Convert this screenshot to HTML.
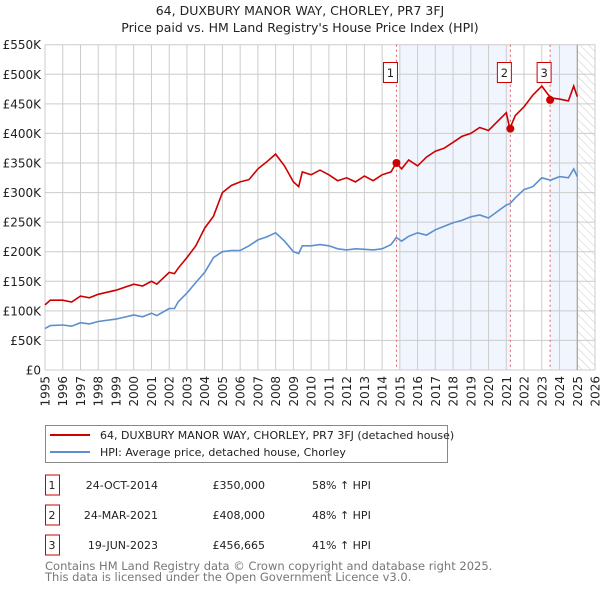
<!DOCTYPE html>
<html><head><meta charset="utf-8"><style>
body{margin:0;background:#fff;font-family:"Liberation Sans","DejaVu Sans",sans-serif;}
svg text{font-family:"DejaVu Sans","Liberation Sans",sans-serif;}
</style></head><body>
<svg id="c" width="600" height="590" viewBox="0 0 600 590">
<defs><pattern id="hatch" width="6" height="6" patternUnits="userSpaceOnUse" patternTransform="rotate(-45)"><line x1="0" y1="0" x2="0" y2="6" stroke="#ccc" stroke-width="1"/></pattern></defs>
<text x="300" y="15" text-anchor="middle" font-size="12.5" fill="#222">64, DUXBURY MANOR WAY, CHORLEY, PR7 3FJ</text>
<text x="300" y="32" text-anchor="middle" font-size="12.5" fill="#222">Price paid vs. HM Land Registry's House Price Index (HPI)</text>
<g id="plot"></g>
<g>
<rect x="45.5" y="425.5" width="402" height="37" fill="#fff" stroke="#888"/>
<line x1="50" y1="435" x2="90" y2="435" stroke="#cc0000" stroke-width="2"/>
<text x="100" y="439" font-size="11" fill="#222">64, DUXBURY MANOR WAY, CHORLEY, PR7 3FJ (detached house)</text>
<line x1="50" y1="452" x2="90" y2="452" stroke="#5b8fd0" stroke-width="2"/>
<text x="100" y="456" font-size="11" fill="#222">HPI: Average price, detached house, Chorley</text>
</g>
<g id="table" font-size="11" fill="#222"></g>
<text x="45" y="570" font-size="11.5" fill="#777">Contains HM Land Registry data © Crown copyright and database right 2025.</text>
<text x="45" y="581" font-size="11.5" fill="#777">This data is licensed under the Open Government Licence v3.0.</text>
</svg>
<script>
const years=[1995,1995.3,1996,1996.5,1997,1997.5,1998,1999,2000,2000.5,2001,2001.3,2002,2002.3,2002.5,2003,2003.5,2004,2004.5,2005,2005.5,2006,2006.5,2007,2007.5,2008,2008.5,2009,2009.3,2009.5,2010,2010.5,2011,2011.5,2012,2012.5,2013,2013.5,2014,2014.5,2014.8,2015.1,2015.5,2016,2016.5,2017,2017.5,2018,2018.5,2019,2019.5,2020,2020.5,2021,2021.2,2021.5,2022,2022.5,2023,2023.5,2024,2024.5,2024.8,2025];
const hpiValues=[70,75,76,74,80,78,82,86,93,90,96,92,104,104,115,130,148,165,190,200,202,202,210,220,225,232,218,200,197,210,210,212,210,205,203,205,204,203,205,212,224,218,226,232,228,237,243,249,253,259,262,257,268,279,281,291,305,310,325,321,327,325,340,327];
const propValues=[110,118,118,115,125,122,128,135,145,142,150,145,165,163,172,190,210,240,260,300,312,318,322,340,352,365,345,318,310,335,330,338,330,320,325,318,328,320,330,335,350,340,355,345,360,370,375,385,395,400,410,405,420,435,408,430,445,465,480,460,458,455,480,462];
const yTicks=[0,50,100,150,200,250,300,350,400,450,500,550];
const yTickLabels=["£0","£50K","£100K","£150K","£200K","£250K","£300K","£350K","£400K","£450K","£500K","£550K"];
const xTicks=[1995,1996,1997,1998,1999,2000,2001,2002,2003,2004,2005,2006,2007,2008,2009,2010,2011,2012,2013,2014,2015,2016,2017,2018,2019,2020,2021,2022,2023,2024,2025,2026];
const saleLabels=["1","2","3"];
const saleYears=[2014.81,2021.23,2023.47];
const saleValues=[350,408,456.665];
const saleDates=["24-OCT-2014","24-MAR-2021","19-JUN-2023"];
const salePrices=["£350,000","£408,000","£456,665"];
const saleHpi=["58% ↑ HPI","48% ↑ HPI","41% ↑ HPI"];
const dataEnd=2025.0;

const L=45,R=595,T=44.7,B=370,x0=1995,x1=2026,yMax=550;
const X=v=>L+(v-x0)/(x1-x0)*(R-L);
const Y=v=>B-v/yMax*(B-T);
const NS='http://www.w3.org/2000/svg';
const plot=document.getElementById('plot');
function mk(tag,attrs,parent){const e=document.createElementNS(NS,tag);for(const k in attrs)e.setAttribute(k,attrs[k]);(parent||plot).appendChild(e);return e;}
let e;
// shading
e=mk('rect',{x:X(saleYears[0])+3,y:T,width:X(saleYears[1])-X(saleYears[0])-3,height:B-T,fill:'#eef3fc',opacity:0.8});


e=mk('rect',{x:X(saleYears[2]),y:T,width:X(dataEnd)-X(saleYears[2]),height:B-T,fill:'#eef3fc',opacity:0.8});


e=mk('rect',{x:X(dataEnd),y:T,width:R-X(dataEnd),height:B-T,fill:'url(#hatch)'});


// grid
yTicks.forEach((t,i)=>{
 e=mk('line',{x1:L,x2:R,y1:Y(t),y2:Y(t),stroke:'#ccc','stroke-width':1});
 
 
 e=mk('text',{x:L-4,y:Y(t)+4.5,'text-anchor':'end','font-size':12,fill:'#222'});
 e.textContent=yTickLabels[i];
 
 
});
xTicks.forEach(t=>{
 e=mk('line',{x1:X(t),x2:X(t),y1:T,y2:B,stroke:'#ccc','stroke-width':1});
 
 
 e=mk('text',{x:0,y:0,'text-anchor':'end','font-size':12,fill:'#222',transform:`translate(${X(t)+4.5},376) rotate(-90)`});
 e.textContent=t;
 
 
});
e=mk('line',{x1:X(dataEnd),x2:X(dataEnd),y1:T,y2:B,stroke:'#999','stroke-width':1});


// sale lines
saleYears.forEach((s,i)=>{
 e=mk('line',{x1:X(s),x2:X(s),y1:T,y2:B,stroke:'#e06060','stroke-width':1,'stroke-dasharray':'2,3'});
 
 
 e=mk('rect',{x:X(s)-13,y:62.5,width:14,height:20,fill:'#fff',stroke:'#cc0000'});
 
 
 e=mk('text',{x:X(s)-6,y:77,'text-anchor':'middle','font-size':11.5,fill:'#222'});
 e.textContent=saleLabels[i];
 
 
});
// lines
const path=vals=>vals.map((v,i)=>(i?'L':'M')+X(years[i]).toFixed(1)+','+Y(v).toFixed(1)).join('');
e=mk('path',{d:path(hpiValues),fill:'none',stroke:'#5b8fd0','stroke-width':1.6});


e=mk('path',{d:path(propValues),fill:'none',stroke:'#cc0000','stroke-width':1.6});


saleYears.forEach((s,i)=>{
 e=mk('circle',{cx:X(s),cy:Y(saleValues[i]),r:4,fill:'#cc0000'});
 
 
});
// table
const tb=document.getElementById('table');
saleLabels.forEach((l,i)=>{
 const yc=485+i*30;
 e=mk('rect',{x:45.5,y:yc-10,width:14,height:20,fill:'#fff',stroke:'#cc0000'},tb);
 
 
 const cols=[[52,l,'middle'],[158,saleDates[i],'end'],[265,salePrices[i],'end'],[312,saleHpi[i],'start']];
 cols.forEach(c=>{
  e=mk('text',{x:c[0],y:yc+4,'text-anchor':c[2]},tb);
  e.textContent=c[1];
  
  
 });
});
</script>
</body></html>
